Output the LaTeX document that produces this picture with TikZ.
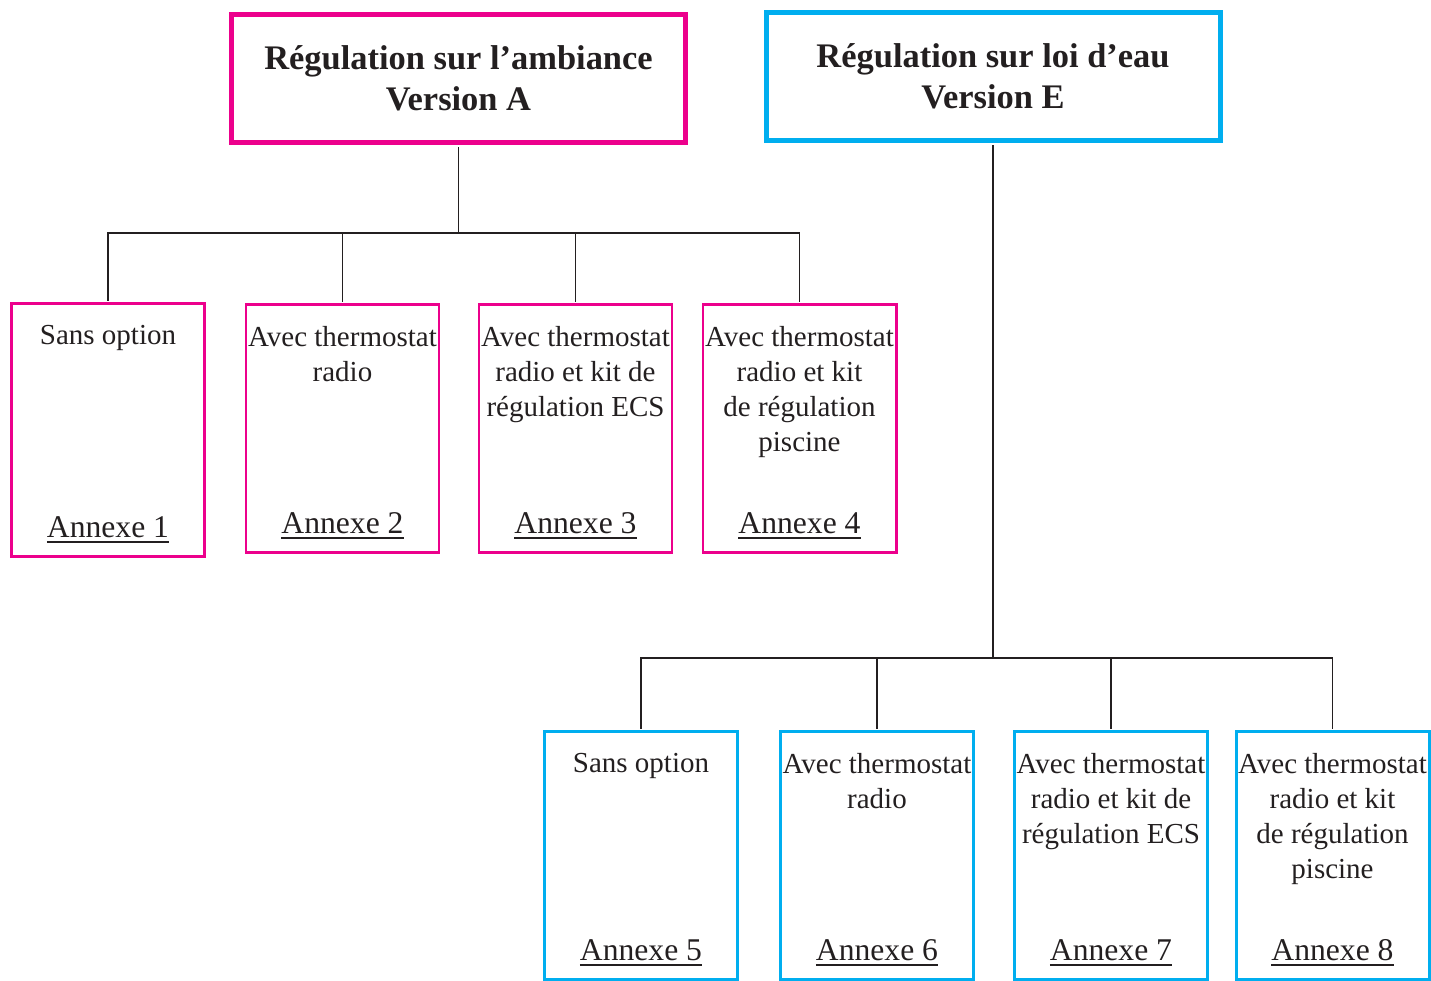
\documentclass[tikz,border=0pt]{standalone}
\usepackage{fontspec}
\setmainfont{Liberation Serif}
\usepackage{tikz}
\definecolor{ambMagenta}{HTML}{EC008C}
\definecolor{eauCyan}{HTML}{00AEEF}
\definecolor{encre}{HTML}{231F20}
\newcommand{\souligne}[1]{\setbox0=\hbox{#1}\rlap{\rule[-2.9pt]{\wd0}{1.1pt}}\box0}
\tikzset{
  titre/.style={draw, line width=2.85pt, minimum width=9.08cm, minimum height=2.56cm,
    align=center, text=encre, font=\fontsize{19.6}{23.3}\selectfont\bfseries},
  option/.style={draw, line width=1.7pt, minimum width=3.86cm, minimum height=4.96cm},
  libelle/.style={anchor=north, inner sep=0pt, align=center, text=encre,
    font=\fontsize{16.5}{19.9}\selectfont},
  annexe/.style={anchor=base, inner sep=0pt, text=encre, font=\fontsize{18}{21}\selectfont},
  lien/.style={encre, line width=0.6pt, shorten <=1.4pt, shorten >=0.85pt}
}

\begin{document}
\begin{tikzpicture}
  \useasboundingbox (0,0) rectangle (28.62,19.62);
  % titres
  \node[titre, draw=ambMagenta] (titreA) at (9.17, 18.05) {Régulation sur l’ambiance\\Version A};
  \node[titre, draw=eauCyan] (titreE) at (19.86, 18.09) {Régulation sur loi d’eau\\Version E};
  % version A
  \node[option, draw=ambMagenta, minimum height=5.06cm] (b1) at (2.16, 11.02) {};
  \node[option, draw=ambMagenta] (b2) at (6.85, 11.05) {};
  \node[option, draw=ambMagenta] (b3) at (11.51, 11.05) {};
  \node[option, draw=ambMagenta] (b4) at (15.99, 11.05) {};
  % version E
  \node[option, draw=eauCyan] (b5) at (12.82, 2.51) {};
  \node[option, draw=eauCyan] (b6) at (17.54, 2.51) {};
  \node[option, draw=eauCyan] (b7) at (22.22, 2.51) {};
  \node[option, draw=eauCyan] (b8) at (26.65, 2.51) {};
  % textes des options
  \foreach \b/\txt in {b1/{Sans option}, b2/{Avec thermostat\\radio},
      b3/{Avec thermostat\\radio et kit de\\régulation ECS},
      b4/{Avec thermostat\\radio et kit\\de régulation\\piscine},
      b5/{Sans option}, b6/{Avec thermostat\\radio},
      b7/{Avec thermostat\\radio et kit de\\régulation ECS},
      b8/{Avec thermostat\\radio et kit\\de régulation\\piscine}}
    \node[libelle] (t\b) at ([yshift=-0.46cm]\b.north) {\txt};
  \foreach \b/\n in {b1/1, b2/2, b3/3, b4/4, b5/5, b6/6, b7/7, b8/8}
    \node[annexe] (a\b) at ([yshift=0.4cm]\b.south) {\souligne{Annexe \n}};
  % liaisons
  \coordinate (busA) at (0, 14.96);
  \coordinate (busE) at (0, 6.46);
  \foreach \b in {b1,b2,b3,b4}
    \draw[lien] (titreA.south) -- (titreA.south |- busA) -| (\b.north);
  \foreach \b in {b5,b6,b7,b8}
    \draw[lien] (titreE.south) -- (titreE.south |- busE) -| (\b.north);
\end{tikzpicture}
\end{document}
